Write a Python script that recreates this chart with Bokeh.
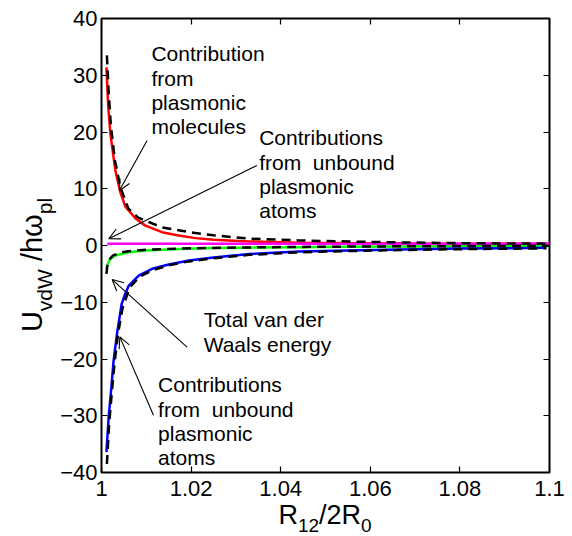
from bokeh.plotting import figure
from bokeh.models import Label, Arrow, OpenHead, LinearAxis, FixedTicker, Range1d, Div
from bokeh.layouts import row, column
from bokeh.embed import file_html
from bokeh.resources import INLINE

# ---------------- data ----------------
red_x = [1.0011, 1.0015, 1.0020, 1.0031, 1.0042, 1.0053, 1.0076, 1.0098, 1.0135, 1.0172,
         1.0210, 1.0250, 1.0330, 1.0440, 1.0550, 1.0700, 1.0850, 1.1000]
red_y = [31.4, 24.5, 19.6, 13.2, 9.4, 6.9, 4.75, 3.5, 2.35, 1.76,
         1.3, 1.0, 0.72, 0.5, 0.42, 0.36, 0.33, 0.31]

dash_up_x = [1.0012, 1.0016, 1.0021, 1.0030, 1.0042, 1.0060, 1.0082, 1.0135, 1.0210, 1.0250,
             1.0330, 1.0440, 1.0555, 1.0666, 1.0800, 1.0993]
dash_up_y = [33.5, 27.0, 21.0, 15.0, 10.3, 6.5, 4.9, 3.2, 2.2, 1.8,
             1.2, 0.9, 0.7, 0.55, 0.42, 0.32]

mag_x = [1.0013, 1.1000]
mag_y = [0.3, 0.3]

green_x = [1.0011, 1.0015, 1.0020, 1.0031, 1.0060, 1.0098, 1.0172, 1.0246, 1.0330, 1.0440,
           1.0550, 1.0666, 1.0800, 1.1000]
green_y = [-4.1, -3.0, -2.35, -1.76, -1.18, -0.88, -0.6, -0.45, -0.38, -0.3,
           -0.24, -0.18, -0.14, -0.1]

dash_g_x = [1.0011, 1.0013, 1.0017, 1.0025, 1.0040, 1.0060, 1.0100, 1.0170, 1.0250, 1.0350,
            1.0500, 1.0650, 1.0800, 1.1000]
dash_g_y = [-5.0, -3.6, -2.5, -1.8, -1.3, -1.0, -0.75, -0.55, -0.42, -0.32,
            -0.22, -0.15, -0.1, -0.05]

blue_x = [1.0011, 1.0016, 1.0022, 1.0027, 1.0035, 1.0045, 1.0053, 1.0061, 1.0083, 1.0113,
          1.0150, 1.0195, 1.0250, 1.0330, 1.0440, 1.0550, 1.0666, 1.0800, 1.0993]
blue_y = [-36.4, -30.2, -25.0, -20.3, -15.3, -10.3, -8.5, -7.05, -5.3, -4.1,
          -3.35, -2.64, -2.1, -1.5, -1.06, -0.88, -0.7, -0.55, -0.41]

dash_b_x = [1.0012, 1.0017, 1.0023, 1.0029, 1.0037, 1.0047, 1.0063, 1.0085, 1.0115, 1.0150,
            1.0195, 1.0250, 1.0330, 1.0440, 1.0550, 1.0666, 1.0800, 1.0993]
dash_b_y = [-38.5, -31.5, -26.0, -20.8, -15.5, -11.0, -7.4, -5.5, -4.3, -3.5,
            -2.8, -2.25, -1.65, -1.2, -0.98, -0.8, -0.65, -0.5]

x_ticks = [1.0, 1.02, 1.04, 1.06, 1.08, 1.1]
x_tick_labels = ["1", "1.02", "1.04", "1.06", "1.08", "1.1"]
y_ticks = [-40, -30, -20, -10, 0, 10, 20, 30, 40]
y_tick_labels = ["\u221240", "\u221230", "\u221220", "\u221210", "0", "10", "20", "30", "40"]

notes = [
    ("Contribution\nfrom\nplasmonic\nmolecules", 1.01114, 35.8),
    ("Contributions\nfrom \u00a0unbound\nplasmonic\natoms", 1.0352, 21.0),
    ("Total van der\nWaals energy", 1.0228, -11.1),
    ("Contributions\nfrom \u00a0unbound\nplasmonic\natoms", 1.01263, -22.55),
]
arrows = [
    (1.01018, 18.5, 1.0040, 9.7),
    (1.0347, 14.1, 1.00163, 1.18),
    (1.0191, -17.9, 1.00238, -6.0),
    (1.0116, -29.9, 1.0041, -16.1),
]

FONT = "Liberation Sans"
TOTAL_W, TOTAL_H = 572, 536
YDIV_W = 56
PW, PH = TOTAL_W - YDIV_W, 506
XDIV_H = TOTAL_H - PH

p = figure(width=PW, height=PH, x_range=Range1d(1.0, 1.1), y_range=Range1d(-40, 40),
           output_backend="svg", toolbar_location=None,
           min_border_left=45, min_border_right=23, min_border_top=18, min_border_bottom=34)
p.xgrid.visible = False
p.ygrid.visible = False
p.outline_line_color = "black"
p.outline_line_width = 2
p.background_fill_color = "white"
p.border_fill_color = "white"

def style_axis(ax, ticks, labels, show):
    ax.ticker = FixedTicker(ticks=ticks)
    ax.axis_line_color = None
    ax.major_tick_in = 6
    ax.major_tick_out = 0
    ax.major_tick_line_width = 1.2
    ax.minor_tick_line_color = None
    if show:
        ax.major_label_overrides = {t: l for t, l in zip(ticks, labels)}
        ax.major_label_text_font = FONT
        ax.major_label_text_font_size = "22px"
        ax.major_label_text_color = "black"
    else:
        ax.major_label_overrides = {t: "" for t in ticks}
        ax.major_label_text_font_size = "0px"
        ax.major_label_standoff = 0

style_axis(p.xaxis[0], x_ticks, x_tick_labels, True)
style_axis(p.yaxis[0], y_ticks, y_tick_labels, True)
p.xaxis[0].major_label_standoff = 8
p.yaxis[0].major_label_standoff = 4

top = LinearAxis()
style_axis(top, x_ticks, x_tick_labels, False)
p.add_layout(top, "above")
right = LinearAxis()
style_axis(right, y_ticks, y_tick_labels, False)
p.add_layout(right, "right")

# curves
p.line(red_x, red_y, line_color="#ff0000", line_width=2.5)
p.line(mag_x, mag_y, line_color="#ff00ff", line_width=2.5)
p.line(green_x, green_y, line_color="#00ff00", line_width=2.5)
p.line(blue_x, blue_y, line_color="#0000ff", line_width=2.5)
for xs, ys in [(dash_up_x, dash_up_y), (dash_g_x, dash_g_y), (dash_b_x, dash_b_y)]:
    p.line(xs, ys, line_color="black", line_width=2.5, line_dash="9 6")

# annotations
for txt, x, y in notes:
    p.add_layout(Label(x=x, y=y, text=txt, text_font=FONT, text_font_size="21px",
                       text_baseline="top", text_align="left", text_line_height=1.055,
                       text_color="black"))
for x0, y0, x1, y1 in arrows:
    p.add_layout(Arrow(x_start=x0, y_start=y0, x_end=x1, y_end=y1, line_width=1.1,
                       line_color="black",
                       end=OpenHead(size=11, line_width=1.1, line_color="black")))

# axis titles (HTML text with subscripts)
YSUB = "font-size:21px;position:relative;top:10px;"
XSUB = "font-size:19px;position:relative;top:8px;"
ylabel_html = (
    f'<div style="position:relative;width:{YDIV_W}px;height:{PH}px;">'
    f'<div style="position:absolute;left:16px;top:265px;transform-origin:0 0;'
    f'transform:rotate(-90deg) translateX(-50%);white-space:nowrap;'
    f"font-family:'{FONT}';font-size:29px;line-height:33px;color:black;\">"
    f'U<span style="{YSUB}">vdW</span>&nbsp;/h\u03c9<span style="{YSUB}">pl</span>'
    f'</div></div>'
)
xlabel_html = (
    f'<div style="position:relative;width:{TOTAL_W}px;height:{XDIV_H}px;">'
    f'<div style="position:absolute;left:325px;top:1px;transform:translateX(-50%);'
    f"white-space:nowrap;font-family:'{FONT}';font-size:27px;line-height:16px;color:black;\">"
    f'R<span style="{XSUB}">12</span>/2R<span style="{XSUB}">0</span>'
    f'</div></div>'
)
ydiv = Div(text=ylabel_html, width=YDIV_W, height=PH, margin=0)
xdiv = Div(text=xlabel_html, width=TOTAL_W, height=XDIV_H, margin=0)

layout = column(row(ydiv, p, spacing=0), xdiv, spacing=0)

open("out.html", "w").write(file_html(layout, INLINE))
